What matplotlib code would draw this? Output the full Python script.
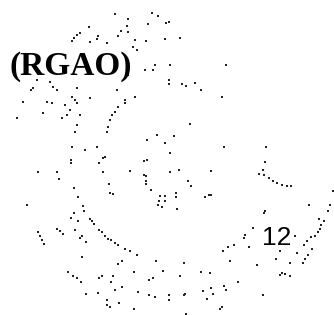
import matplotlib
matplotlib.use("Agg")
import matplotlib.pyplot as plt

# scattered dots in pixel coordinates (x right, y down)
dots_x = [115, 128, 152, 158, 166, 89, 80, 77, 74, 72, 127, 121, 128, 148, 118, 98, 97, 90, 135, 146, 165, 107,
          133, 137, 155, 153, 145, 128, 37, 50, 53, 57, 33, 31, 77, 117, 135, 90, 72, 75, 77, 23, 47, 52, 65, 125, 125,
          118, 115, 112, 43, 70, 67, 62, 80, 110, 108, 107, 17, 77, 75, 147, 157, 165, 72, 85, 97, 105,
          169, 180, 170, 226, 169, 169, 182, 186, 195, 201, 222, 190, 174, 224, 266, 170,
          71, 71, 99, 103, 144, 147, 38, 57, 59, 103, 130, 144, 146, 146, 146, 109, 74, 151, 110, 113, 78,
          160, 165, 159, 165, 158, 162, 27, 83, 84, 74, 71, 78, 90, 92, 94, 57, 60, 63, 75, 99, 102,
          38, 40, 42, 44, 82, 80, 105, 108, 111, 86, 115, 118, 125, 130, 137, 82, 118, 122, 156, 163,
          68, 73, 77, 81, 134, 99, 102, 113, 111, 149, 153, 122, 115, 86, 98, 138, 149, 155, 107, 107, 110, 119, 134,
          265, 179, 170, 211, 263, 259, 264, 269, 273, 277, 282, 287, 291, 188, 191, 176, 176, 205, 209, 211,
          333, 177, 309, 330, 328, 265, 264, 319, 324, 321, 320, 318, 315, 311, 307, 304, 312, 308, 305, 303,
          253, 245, 244, 295, 234, 228, 223, 249, 280, 297, 230, 276, 290, 184, 257, 201, 210, 282, 285, 290,
          280, 180, 238, 224, 226, 211, 213, 203, 169, 169, 185, 184, 263, 207, 220, 222, 186]
dots_y = [14, 19, 13, 16, 23, 27, 33, 35, 38, 41, 26, 31, 32, 24, 36, 36, 39, 42, 40, 41, 39, 43,
          47, 50, 65, 70, 70, 75, 80, 82, 87, 90, 88, 90, 88, 90, 97, 98, 97, 100, 103, 102, 102, 103, 105, 100, 103,
          107, 112, 115, 113, 110, 115, 118, 115, 120, 127, 132, 118, 125, 132, 140, 135, 143, 147, 150, 147, 157,
          22, 38, 65, 65, 80, 84, 84, 86, 83, 90, 97, 124, 136, 147, 147, 153,
          160, 163, 163, 158, 161, 160, 172, 172, 179, 172, 171, 175, 176, 181, 184, 184, 188, 190, 193, 194, 197,
          196, 196, 201, 201, 205, 207, 205, 206, 211, 213, 218, 221, 219, 221, 224, 229, 231, 234, 230, 230, 232,
          232, 236, 240, 244, 236, 238, 236, 239, 240, 242, 243, 245, 249, 251, 255, 257, 264, 261, 261, 271,
          272, 276, 278, 282, 272, 278, 276, 276, 282, 280, 278, 287, 290, 294, 293, 292, 295, 297, 300, 305, 307, 303, 309,
          162, 170, 172, 171, 170, 174, 175, 178, 181, 183, 185, 186, 186, 181, 186, 193, 197, 197, 195, 195,
          191, 209, 205, 205, 211, 211, 213, 219, 221, 225, 229, 232, 236, 237, 241, 245, 249, 255, 259, 263,
          228, 235, 238, 236, 245, 247, 251, 247, 251, 253, 261, 259, 263, 263, 265, 272, 273, 273, 274, 276,
          275, 276, 282, 286, 290, 288, 294, 291, 295, 300, 294, 295, 295, 299, 309, 307, 314]

fig = plt.figure(figsize=[3.34, 3.15], dpi=100)
ax = fig.add_axes([0, 0, 1, 1])
ax.set_xlim(0, 334)
ax.set_ylim(315, 0)
ax.axis('off')

ax.scatter(dots_x, dots_y, s=0.9, marker='s', color='#222222', linewidths=0)

ax.text(71, 66, "(RGAO)", family='Liberation Serif', weight='bold', size=24,
        ha='center', va='center', color='black')
ax.text(277, 238, "12", family='Liberation Sans', size=19,
        ha='center', va='center', color='black')

plt.savefig("out.png", dpi=100)
